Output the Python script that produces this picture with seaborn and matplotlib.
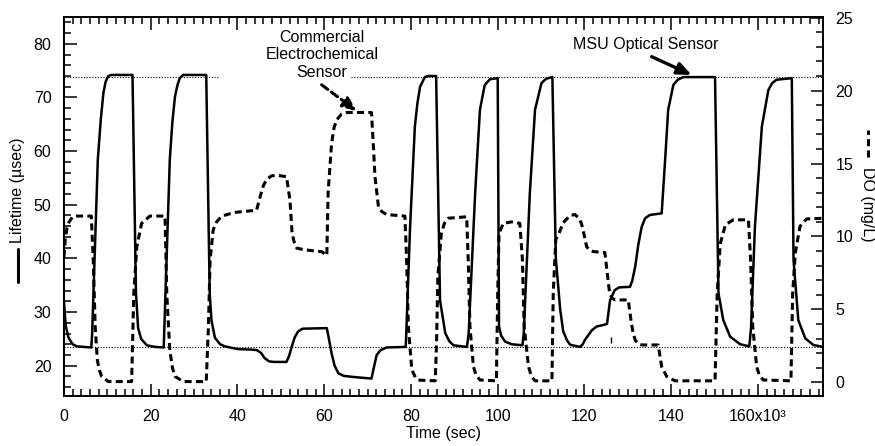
import matplotlib
matplotlib.use("Agg")
import matplotlib.pyplot as plt
import pandas as pd
import seaborn as sns
from matplotlib.lines import Line2D
from matplotlib.ticker import MultipleLocator, FixedLocator

# optical sensor lifetime (usec) vs time (x1000 s)
time_life = [0, 0.4, 1.0, 2.0, 3.0, 6.3, 6.5, 7.8, 8.5, 9.1, 9.6, 10.2, 11.0, 15.8,
             16.6, 17.1, 17.8, 19.1, 21.0, 23.0, 24.4, 25.0, 25.6, 26.2, 26.7, 27.5, 32.8,
             33.6, 34.0, 34.8, 36.0, 37.1, 40.0, 43.3, 44.5, 45.4, 46.3, 47.3, 48.5,
             51.3, 51.9, 52.5, 53.2, 54.0, 55.0, 57.9, 60.6, 61.2, 61.7, 62.4, 63.25,
             64.5, 66.7, 70.9, 71.4, 72.1, 73.0, 74.4, 78.8, 79.8, 80.9, 81.5, 82.1,
             83.2, 84.0, 85.8, 86.7, 87.9, 88.8, 89.8, 92.9, 93.3, 94.8, 95.9, 97.0,
             98.2, 100.0, 100.3, 100.8, 101.7, 103.2, 105.7, 106.0, 107.4, 108.6,
             110.1, 111.2, 112.6, 113.4, 114.4, 115.1, 116.0, 116.7, 119.0, 119.6,
             120.1, 121.7, 122.8, 124.4, 125.2, 125.9, 127.0, 128.0, 130.5, 131.0,
             131.7, 132.4, 133.2, 134.0, 135.1, 137.8, 138.6, 139.3, 140.5, 141.5,
             142.8, 150.1, 150.9, 152.0, 153.6, 155.9, 158.0, 158.4, 159.3, 160.9,
             162.4, 163.3, 164.3, 167.8, 168.2, 169.3, 170.9, 172.8, 175.0]
lifetime = [32.0, 27.5, 25.3, 24.0, 23.6, 23.4, 26.0, 58.4, 66.0, 70.9, 72.9, 74.0, 74.2, 74.2,
            33.5, 27.0, 25.0, 23.8, 23.5, 23.4, 58.4, 65.5, 70.2, 72.4, 73.6, 74.2, 74.2,
            33.5, 28.5, 25.2, 24.0, 23.6, 23.1, 23.0, 22.9, 22.4, 21.4, 20.8, 20.7,
            20.7, 21.8, 23.5, 25.3, 26.4, 26.9, 26.95, 27.0, 24.5, 22.3, 20.0, 18.6,
            18.1, 17.9, 17.6, 19.5, 22.0, 22.9, 23.4, 23.5, 45.9, 64.6, 69.0, 72.0,
            73.8, 74.0, 74.0, 32.2, 26.1, 24.6, 23.8, 23.5, 26.0, 52.2, 67.7, 72.3,
            73.4, 73.6, 27.3, 25.6, 24.5, 24.0, 23.8, 26.0, 52.1, 67.7,
            72.7, 73.5, 73.8, 40.0, 30.5, 26.4, 24.7, 23.9, 23.5, 24.0,
            24.8, 26.6, 27.3, 27.6, 27.8, 32.2, 34.1, 34.6, 34.7, 35.8,
            38.45, 42.5, 45.9, 47.5, 48.1, 48.4, 58.4, 67.7, 72.35, 73.3,
            73.8, 73.8, 33.5, 28.5, 25.4, 24.0, 23.6, 27.0, 45.9, 64.6,
            71.4, 72.7, 73.3, 73.6, 39.7, 28.5, 25.1, 23.85, 23.5]

# electrochemical sensor dissolved oxygen (mg/L)
time_do = [0, 0.3, 0.7, 1.2, 2.0, 3.0, 6.3, 6.75, 7.2, 7.7, 8.2, 8.7, 10.2, 15.6,
           16.1, 16.8, 17.9, 19.8, 23.3, 23.7, 24.4, 25.0, 25.6, 27.5, 32.8, 33.3,
           33.7, 34.4, 35.2, 36.4, 39.4, 44.4, 45.2, 46.0, 46.7, 47.8, 49.0, 51.3,
           52.1, 52.6, 53.1, 53.7, 55.2, 57.9, 59.4, 60.6, 60.9, 61.7, 62.3, 62.9,
           64.0, 65.2, 70.9, 71.3, 71.7, 72.5, 73.3, 74.4, 78.6, 79.0, 79.4, 80.2,
           81.0, 81.7, 85.6, 85.9, 86.2, 87.0, 87.7, 88.6, 92.85, 93.2, 93.6, 94.4,
           95.0, 95.9, 99.7, 100.0, 100.3, 101.3, 103.2, 105.1, 105.7, 106.1, 107.1,
           107.8, 108.6, 112.5, 112.8, 113.4, 114.4, 115.0, 115.9, 116.8, 117.8,
           118.6, 119.3, 120.0, 120.5, 121.2, 122.1, 124.7, 125.1, 125.8, 126.4,
           127.1, 130.1, 130.7, 131.2, 131.7, 132.3, 133.2, 137.0, 137.4, 137.8,
           139.0, 140.9, 150.1, 150.6, 151.3, 152.5, 154.3, 157.8, 158.3, 158.8,
           159.7, 160.3, 161.2, 167.6, 168.0, 168.6, 169.7, 171.2, 175.0]
do_mgl = [8.6, 9.8, 10.6, 11.0, 11.35, 11.4, 11.4, 8.4, 3.8, 1.5, 0.8, 0.4, 0.05, 0.05,
          6.1, 9.3, 10.9, 11.4, 11.4, 6.1, 2.2, 1.0, 0.4, 0.05, 0.05, 3.8,
          8.4, 10.45, 11.0, 11.4, 11.65, 11.8, 12.7, 13.5, 13.9, 14.15, 14.2, 14.1,
          12.5, 10.2, 9.6, 9.2, 9.1, 9.0, 8.96, 8.7, 13.0, 16.4, 17.5, 18.0,
          18.4, 18.5, 18.5, 16.4, 14.1, 12.05, 11.7, 11.5, 11.4, 8.4, 3.8, 0.85,
          0.35, 0.15, 0.1, 2.7, 7.25, 10.2, 10.9, 11.25, 11.35, 8.4, 3.8, 1.07,
          0.5, 0.16, 0.1, 6.1, 10.2, 10.9, 11.0, 10.9, 8.4, 3.8, 1.07,
          0.4, 0.1, 0.1, 6.1, 9.8, 10.4, 10.9, 11.2, 11.45, 11.5,
          11.3, 10.9, 10.0, 9.3, 9.05, 8.96, 8.9, 7.9, 6.1, 5.75,
          5.65, 5.65, 4.3, 3.4, 2.9, 2.65, 2.56, 2.56, 1.8, 1.07,
          0.38, 0.1, 0.1, 6.1, 9.5, 10.8, 11.14, 11.14, 8.4, 3.8,
          1.07, 0.5, 0.16, 0.1, 6.1, 8.85, 10.7, 11.2, 11.25]

# short vertical blip on the lifetime trace
blip_time = [126.1]
blip_low = [24.2]
blip_high = [25.4]

# dotted reference levels (upper one broken around the label)
ref_upper = 73.8
ref_upper_spans = [(0, 35.5), (66.2, 175)]
ref_lower = 23.4

xtick_vals = [0, 20, 40, 60, 80, 100, 120, 140, 160]
xtick_labels = ["0", "20", "40", "60", "80", "100", "120", "140", "160x10³"]
ytick_left = [20, 30, 40, 50, 60, 70, 80]
ytick_right = [0, 5, 10, 15, 20, 25]

df_life = pd.DataFrame({"time": time_life, "lifetime": lifetime})
df_do = pd.DataFrame({"time": time_do, "do": do_mgl})

sns.set_theme(style="ticks")
plt.rcParams["font.family"] = ["Liberation Sans", "DejaVu Sans"]
plt.rcParams["axes.linewidth"] = 1.4
plt.rcParams["axes.edgecolor"] = "black"
plt.rcParams["text.color"] = "black"
plt.rcParams["axes.labelcolor"] = "black"
plt.rcParams["xtick.color"] = "black"
plt.rcParams["ytick.color"] = "black"

FS = 11.5

fig = plt.figure(figsize=(8.75, 4.46), dpi=100)
ax = fig.add_axes([0.0731, 0.1121, 0.8675, 0.8498])
ax2 = ax.twinx()

for lo, hi in ref_upper_spans:
    ax.plot([lo, hi], [ref_upper, ref_upper], color="black", lw=0.8,
            linestyle=(0, (1, 1.5)))
ax.axhline(ref_lower, color="black", lw=0.8, linestyle=(0, (1, 1.5)))

sns.lineplot(data=df_life, x="time", y="lifetime", ax=ax, color="black",
             lw=1.8, sort=False, estimator=None, legend=False)
ax.vlines(blip_time, blip_low, blip_high, color="black", lw=1.0)

sns.lineplot(data=df_do, x="time", y="do", ax=ax2, color="black",
             lw=2.2, sort=False, estimator=None, legend=False)
ax2.lines[-1].set_dashes((2.3, 1.4))
ax2.lines[-1].set_dash_capstyle("butt")

ax.set_xlim(0, 175)
ax.set_ylim(14.35, 85)
ax2.set_ylim(-0.94, 25.05)

ax.xaxis.set_major_locator(FixedLocator(xtick_vals))
ax.set_xticklabels(xtick_labels)
ax.xaxis.set_minor_locator(MultipleLocator(2))
ax.yaxis.set_major_locator(FixedLocator(ytick_left))
ax.yaxis.set_minor_locator(MultipleLocator(2))
ax2.yaxis.set_major_locator(FixedLocator(ytick_right))
ax2.yaxis.set_minor_locator(MultipleLocator(1))

ax.tick_params(axis="x", which="both", direction="in", top=True, bottom=True,
               labelsize=FS, pad=9)
ax.tick_params(axis="y", which="both", direction="in", left=True, right=False,
               labelsize=FS, pad=9)
ax2.tick_params(axis="y", which="both", direction="in", right=True, left=False,
                labelsize=FS, pad=9)
for a in (ax, ax2):
    a.tick_params(which="major", length=9, width=1.1)
    a.tick_params(which="minor", length=5, width=1.1)

ax.set_xlabel("Time (sec)", fontsize=FS, labelpad=2)
ax.set_ylabel("")
ax2.set_ylabel("")

# axis titles with their line keys, drawn in figure pixels
W, H = 875.0, 446.0
fig.text(18 / W, 1 - 190 / H, "Lifetime (µsec)", rotation=90, ha="center",
         va="center", fontsize=FS)
fig.add_artist(Line2D([18 / W, 18 / W], [1 - 282 / H, 1 - 249 / H],
                      color="black", lw=2.2, transform=fig.transFigure))
fig.text(868 / W, 1 - 204 / H, "DO (mg/L)", rotation=270, ha="center",
         va="center", fontsize=FS)
fig.add_artist(Line2D([868 / W, 868 / W], [1 - 157 / H, 1 - 130 / H],
                      color="black", lw=2.2, dashes=(2.3, 1.4),
                      dash_capstyle="butt", transform=fig.transFigure))

ax2.text(59.5, 22.45, "Commercial\nElectrochemical\nSensor", ha="center",
         va="center", fontsize=FS, linespacing=1.2)
ax2.annotate("", xy=(67.5, 18.6), xytext=(59.4, 20.4),
             arrowprops=dict(arrowstyle="-|>,head_length=0.7,head_width=0.3",
                             linestyle=(0, (2.5, 1.5)), lw=2.2, color="black",
                             mutation_scale=12, shrinkA=0, shrinkB=0))

ax.text(134.2, 79.8, "MSU Optical Sensor", ha="center", va="center",
        fontsize=FS)
ax.annotate("", xy=(144.7, 74.2), xytext=(135.5, 77.6),
            arrowprops=dict(arrowstyle="-|>,head_length=0.7,head_width=0.3",
                            lw=2.4, color="black", mutation_scale=12,
                            shrinkA=0, shrinkB=0))

fig.savefig("out.png", dpi=100)
